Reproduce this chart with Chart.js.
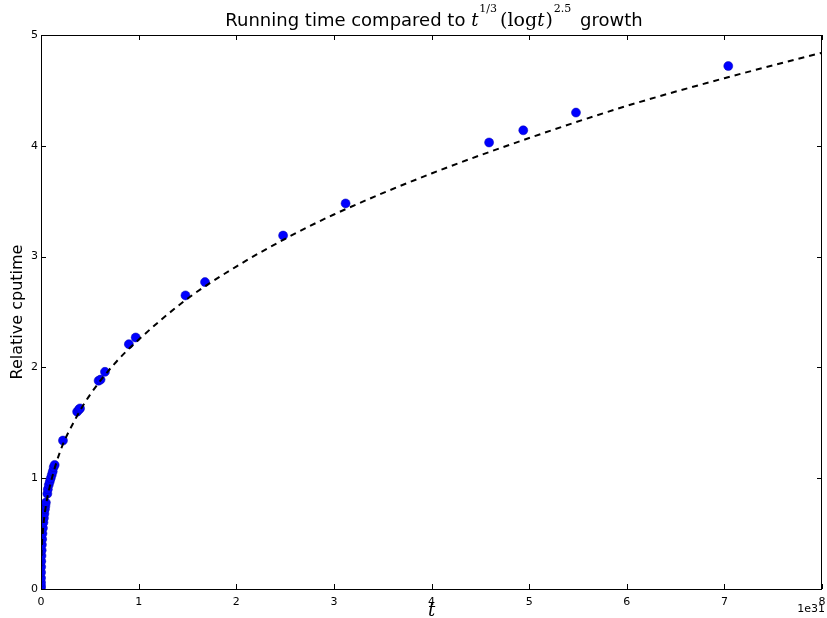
<!DOCTYPE html>
<html>
<head>
<meta charset="utf-8">
<script src="https://cdn.jsdelivr.net/npm/chart.js@4.4.1/dist/chart.umd.min.js"></script>
<style>
  html, body { margin: 0; padding: 0; background: #fff; }
  #wrap { width: 827px; height: 618px; }
</style>
</head>
<body>
<div id="wrap"><canvas id="grafico" width="827" height="618"></canvas></div>
<script>
// ── Datos (t en unidades de 1e31) ─────────────────────────────────────────
var medidasT = [
    0, 0.0001, 0.0002, 0.0005, 0.001, 0.002, 0.003, 0.005, 0.007, 0.009,
    0.012, 0.015, 0.02, 0.025, 0.03, 0.035, 0.04, 0.045, 0.05, 0.065,
    0.07, 0.08, 0.09, 0.10, 0.11, 0.12, 0.13, 0.14,
    0.225, 0.37, 0.39, 0.40, 0.59, 0.61, 0.655, 0.90, 0.97,
    1.48, 1.68, 2.48, 3.12, 4.59, 4.94, 5.48, 7.04
];
var medidasCpu = [
    0.01, 0.03, 0.06, 0.10, 0.15, 0.20, 0.25, 0.30, 0.35, 0.40,
    0.45, 0.50, 0.55, 0.60, 0.64, 0.68, 0.72, 0.75, 0.78, 0.86,
    0.90, 0.94, 0.97, 1.00, 1.03, 1.06, 1.10, 1.12,
    1.34, 1.60, 1.62, 1.63, 1.88, 1.89, 1.96, 2.21, 2.27,
    2.65, 2.77, 3.19, 3.48, 4.03, 4.14, 4.30, 4.72
];

// curva discontinua
var curvaT = [0, 0.001, 0.005, 0.01, 0.025, 0.05, 0.1, 0.2, 0.35, 0.5, 0.75,
              1, 1.5, 2, 2.5, 3, 4, 5, 6, 7, 8];
var curvaCpu = [0, 0.175, 0.32, 0.41, 0.58, 0.75, 0.96, 1.25, 1.53, 1.75, 2.03,
                2.25, 2.62, 2.91, 3.16, 3.38, 3.75, 4.07, 4.36, 4.61, 4.84];

var ticksX = [0, 1, 2, 3, 4, 5, 6, 7, 8];
var ticksY = [0, 1, 2, 3, 4, 5];

function aPuntos(xs, ys) {
    return xs.map(function (x, i) { return { x: x, y: ys[i] }; });
}

// ── Plugin: marco, ticks interiores, título y offset 1e31 ────────────────
var marcoEjes = {
    id: 'marcoEjes',
    afterDatasetsDraw: function (chart) {
        var c = chart.ctx, a = chart.chartArea;
        var sx = chart.scales.x, sy = chart.scales.y;
        c.save();
        c.strokeStyle = '#000';
        c.lineWidth = 1;
        c.strokeRect(a.left + 0.5, a.top + 0.5, a.right - a.left - 1, a.bottom - a.top);
        var L = 5;
        c.beginPath();
        ticksX.forEach(function (v) {
            var px = Math.round(sx.getPixelForValue(v)) + 0.5;
            c.moveTo(px, a.bottom); c.lineTo(px, a.bottom - L);
            c.moveTo(px, a.top); c.lineTo(px, a.top + L);
        });
        ticksY.forEach(function (v) {
            var py = Math.round(sy.getPixelForValue(v)) + 0.5;
            c.moveTo(a.left, py); c.lineTo(a.left + L, py);
            c.moveTo(a.right, py); c.lineTo(a.right - L, py);
        });
        c.stroke();

        // offset del eje x
        c.fillStyle = '#000';
        c.font = '11px "DejaVu Sans"';
        c.textAlign = 'right';
        c.textBaseline = 'alphabetic';
        c.fillText('1e31', a.right + 3, 612);

        // título con notación matemática
        var base = 26;
        var partes = [
            { t: 'Running time compared to ', f: '18px "DejaVu Sans"', dy: 0, gap: 0 },
            { t: 't', f: 'italic 18px "DejaVu Serif"', dy: 0, gap: 1 },
            { t: '1/3', f: '11px "DejaVu Serif"', dy: -14, gap: 3 },
            { t: '(log', f: '19px "DejaVu Serif"', dy: 0, gap: 0 },
            { t: 't', f: 'italic 18px "DejaVu Serif"', dy: 0, gap: 1 },
            { t: ')', f: '19px "DejaVu Serif"', dy: 0, gap: 1 },
            { t: '2.5', f: '11px "DejaVu Serif"', dy: -14, gap: 3 },
            { t: ' growth', f: '18px "DejaVu Sans"', dy: 0, gap: 0 }
        ];
        var total = 0;
        partes.forEach(function (p) { c.font = p.f; p.w = c.measureText(p.t).width; total += p.w + p.gap; });
        var x0 = 434 - total / 2;
        c.textAlign = 'left';
        partes.forEach(function (p) {
            c.font = p.f;
            c.fillText(p.t, x0, base + p.dy);
            x0 += p.w + p.gap;
        });
        c.restore();
    }
};

// ── Gráfico ───────────────────────────────────────────────────────────────
new Chart(document.getElementById('grafico').getContext('2d'), {
    type: 'scatter',
    data: {
        datasets: [
            {
                label: 'ajuste',
                type: 'line',
                data: aPuntos(curvaT, curvaCpu),
                borderColor: '#000',
                borderWidth: 2,
                borderDash: [6, 5],
                pointRadius: 0,
                fill: false,
                cubicInterpolationMode: 'monotone',
                clip: 0
            },
            {
                label: 'cputime',
                data: aPuntos(medidasT, medidasCpu),
                backgroundColor: '#0000ff',
                borderColor: '#0000b0',
                borderWidth: 0.5,
                pointRadius: 4.5,
                clip: 0
            }
        ]
    },
    plugins: [marcoEjes],
    options: {
        responsive: false,
        animation: false,
        layout: { padding: { top: 35, right: 5, left: 0, bottom: 0 } },
        plugins: {
            legend: { display: false },
            tooltip: { enabled: false }
        },
        scales: {
            x: {
                type: 'linear',
                min: 0, max: 8,
                afterFit: function (s) { s.height = 29; s.paddingLeft = 0; s.paddingRight = 0; },
                afterBuildTicks: function (s) { s.ticks = ticksX.map(function (v) { return { value: v }; }); },
                grid: { display: false, drawTicks: false },
                border: { display: false },
                ticks: { color: '#000', padding: 7, font: { family: 'DejaVu Sans', size: 11 }, maxRotation: 0 },
                title: {
                    display: true, text: 't', color: '#000',
                    font: { family: 'DejaVu Serif', style: 'italic', size: 18 },
                    padding: { top: 0, bottom: -4 }
                }
            },
            y: {
                type: 'linear',
                min: 0, max: 5,
                afterFit: function (s) { s.width = 41; s.paddingTop = 0; s.paddingBottom = 0; },
                afterBuildTicks: function (s) { s.ticks = ticksY.map(function (v) { return { value: v }; }); },
                grid: { display: false, drawTicks: false },
                border: { display: false },
                ticks: { color: '#000', padding: 3, font: { family: 'DejaVu Sans', size: 11 } },
                title: {
                    display: true, text: 'Relative cputime', color: '#000',
                    font: { family: 'DejaVu Sans', size: 16 },
                    padding: { top: 8, bottom: 0 }
                }
            }
        }
    }
});
</script>
</body>
</html>
